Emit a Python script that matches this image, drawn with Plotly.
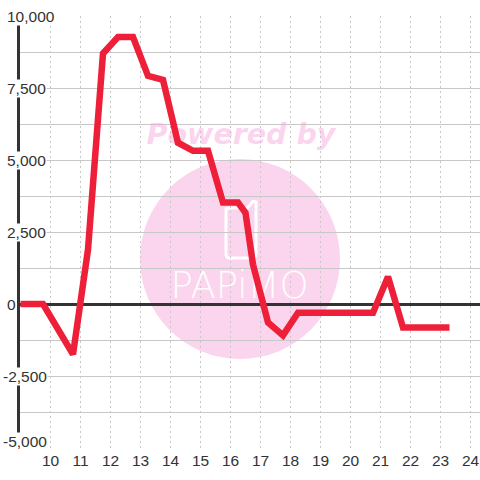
import plotly.graph_objects as go

hours = [9, 9.75, 10.75, 11.25, 11.75, 12.25, 12.75, 13.25, 13.75, 14.25, 14.75, 15.25,
         15.75, 16.25, 16.5, 16.75, 17.25, 17.75, 18.25, 20.75, 21.25, 21.75, 23.3]
values = [0, 0, -1750, 1890, 8700, 9270, 9270, 7920, 7780, 5600, 5320, 5320,
          3520, 3520, 3170, 1370, -640, -1090, -300, -300, 950, -820, -820]
x_ticks = list(range(10, 25))
y_labels = [10000, 7500, 5000, 2500, 0, -2500, -5000]

W, H = 480, 480
L, R, T, B = 20, 0, 16, 32
def px(v): return (v - L) / (W - L - R)
def py(v): return 1 - (v - T) / (H - T - B)

X0 = 10 - 30.5 / 30
X1 = 10 + 429.5 / 30
INK = "#333333"
GRID = "#c8c8c8"
PINK = "#fbd5ee"
FONT = "Liberation Sans"

fig = go.Figure()

# watermark text (under the data line)
fig.add_trace(go.Scatter(x=[16.35], y=[5810], mode="text", text=["Powered by"], hoverinfo="skip",
                         textfont=dict(family="DejaVu Sans", size=28.5, color="rgba(247,165,220,0.47)",
                                       weight="bold", style="italic"), showlegend=False))
fig.add_trace(go.Scatter(x=[16.3], y=[540], mode="text", text=["PAPiMO"], hoverinfo="skip",
                         textfont=dict(family="DejaVu Sans", size=37, color="rgba(255,255,255,0.95)", weight=200),
                         showlegend=False))

fig.add_trace(go.Scatter(x=hours, y=values, mode="lines", showlegend=False,
                         line=dict(color="#ee1f38", width=6.5)))

# watermark disc + phone outline
fig.add_shape(type="circle", xref="paper", yref="paper", layer="below",
              x0=px(140), x1=px(340), y0=py(359), y1=py(159),
              fillcolor=PINK, line_width=0)
fig.add_shape(type="path", xref="paper", yref="paper", layer="below",
              path=(f"M {px(226)} {py(209)} L {px(226)} {py(254)} Q {px(226)} {py(258)} {px(230)} {py(258)} "
                    f"L {px(251)} {py(258)} Q {px(256)} {py(258)} {px(256)} {py(254)} L {px(256)} {py(202)} "
                    f"Q {px(253)} {py(200)} {px(251)} {py(204)} L {px(247)} {py(208)} L {px(230)} {py(208)} Z"),
              fillcolor="rgba(0,0,0,0)", line=dict(color="white", width=3))

# y labels with white backing that interrupts the axis line
for v in y_labels:
    fig.add_annotation(x=px(2 if v < 0 else 6), xref="paper", y=v, yref="y", xanchor="left", yanchor="middle",
                       yshift=6.5 if v == -5000 else 0,
                       text=f"{v:,}", showarrow=False, bgcolor="white", borderpad=0,
                       font=dict(family=FONT, size=15.5, color=INK))

fig.update_layout(
    width=W, height=H, autosize=False,
    margin=dict(l=L, r=R, t=T, b=B),
    paper_bgcolor="rgba(0,0,0,0)", plot_bgcolor="rgba(0,0,0,0)",
    showlegend=False,
    xaxis=dict(range=[X0, X1], tickmode="array", tickvals=x_ticks, ticktext=[str(t) for t in x_ticks],
               showgrid=True, gridcolor=GRID, griddash="2px,3px", gridwidth=1, zeroline=False,
               showline=False, ticks="", ticklabelstandoff=1, tickfont=dict(family=FONT, size=15.5, color=INK)),
    yaxis=dict(range=[-5000, 10000], dtick=1250, tick0=0, showgrid=True, gridcolor=GRID, gridwidth=1.3,
               showticklabels=False, ticks="", zeroline=True, zerolinecolor=INK, zerolinewidth=3,
               showline=True, linecolor=INK, linewidth=3),
)
fig.write_html("out.html", config={"displayModeBar": False},
               post_script="document.body.style.margin='0';document.querySelectorAll('path.js-line').forEach(function(p){p.style.strokeLinejoin='miter';});")
